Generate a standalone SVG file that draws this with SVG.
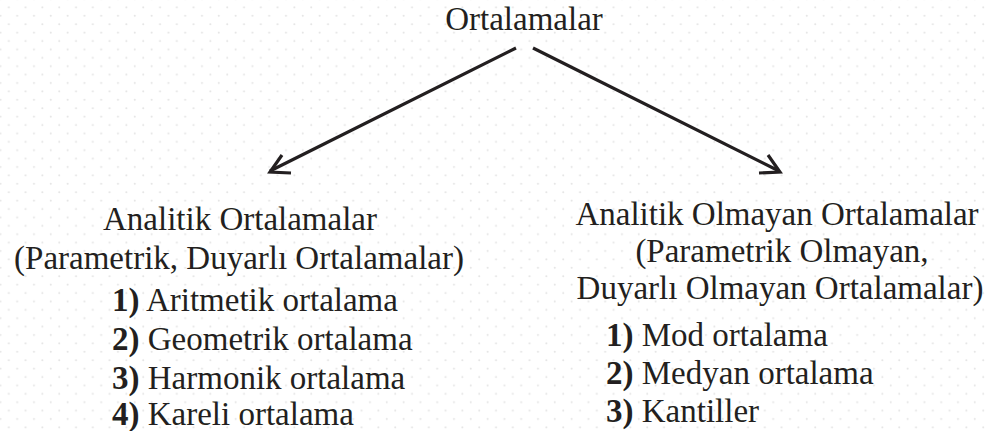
<svg xmlns="http://www.w3.org/2000/svg" width="987" height="431" viewBox="0 0 987 431">
<defs>
<pattern id="dots" patternUnits="userSpaceOnUse" x="4.6" y="3.2" width="16.8" height="16.8">
<circle cx="4.2" cy="4.2" r="1" fill="#e3e3e3"/>
<circle cx="12.6" cy="12.6" r="1" fill="#e3e3e3"/>
</pattern>
<style>
.t{font-size:33px;fill:#231f20}
.c{text-anchor:middle}
.b{font-weight:bold}
.ln{fill:none;stroke:#231f20;stroke-width:3.2;stroke-linecap:butt;stroke-linejoin:miter}
</style>
</defs>
<rect width="987" height="431" fill="#fff"/>
<rect width="987" height="431" fill="url(#dots)"/>
<g id="root" font-family="Liberation Serif, serif">
<text class="t c" x="524" y="30">Ortalamalar</text>
</g>
<g id="connectors">
<path class="ln" d="M516,48 L270,171"/>
<path class="ln" d="M282,155 L270,172 L291,173"/>
<path class="ln" d="M533,48 L779,171"/>
<path class="ln" d="M768,155 L780,172 L759,173"/>
</g>
<g id="analitik" font-family="Liberation Serif, serif">
<text class="t c" x="240" y="230">Analitik Ortalamalar</text>
<text class="t c" x="239" y="269">(Parametrik, Duyarlı Ortalamalar)</text>
<text class="t" x="112" y="311"><tspan class="b">1)</tspan> Aritmetik ortalama</text>
<text class="t" x="112" y="350"><tspan class="b">2)</tspan> Geometrik ortalama</text>
<text class="t" x="112" y="389"><tspan class="b">3)</tspan> Harmonik ortalama</text>
<text class="t" x="112" y="425"><tspan class="b">4)</tspan> Kareli ortalama</text>
</g>
<g id="analitik-olmayan" font-family="Liberation Serif, serif">
<text class="t c" x="777" y="225">Analitik Olmayan Ortalamalar</text>
<text class="t c" x="782" y="262">(Parametrik Olmayan,</text>
<text class="t c" x="780" y="299">Duyarlı Olmayan Ortalamalar)</text>
<text class="t" x="606" y="346"><tspan class="b">1)</tspan> Mod ortalama</text>
<text class="t" x="606" y="384"><tspan class="b">2)</tspan> Medyan ortalama</text>
<text class="t" x="606" y="422"><tspan class="b">3)</tspan> Kantiller</text>
</g>
</svg>
